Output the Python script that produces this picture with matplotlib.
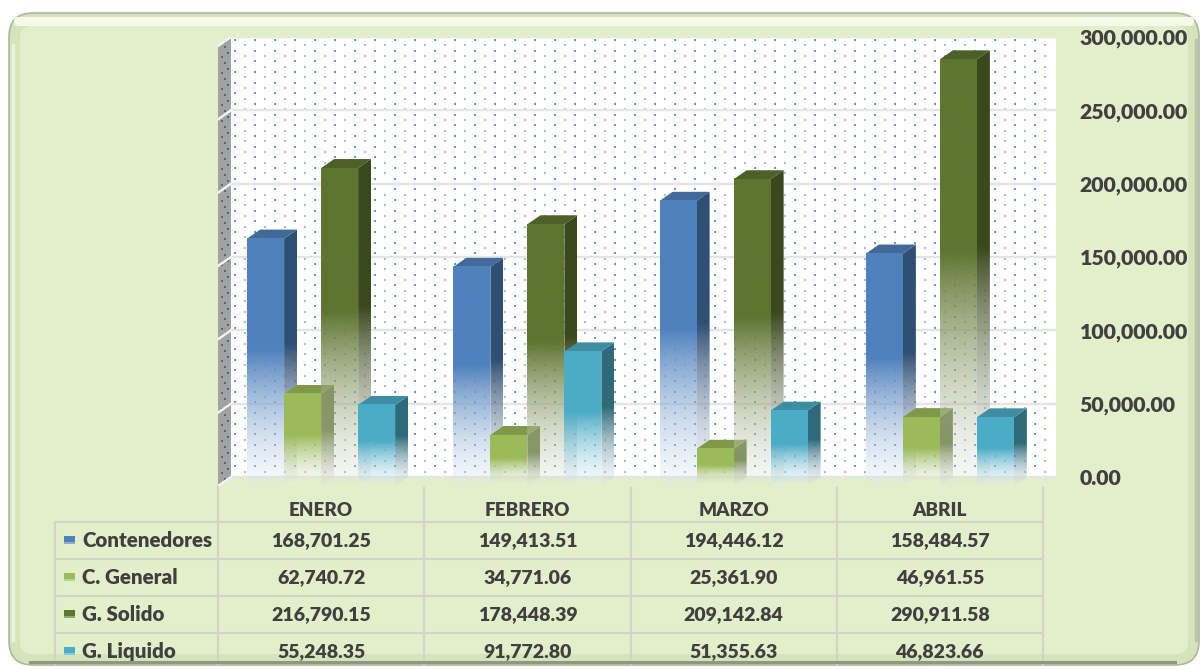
import numpy as np
import matplotlib
matplotlib.use("Agg")
import matplotlib.pyplot as plt
from matplotlib.patches import Polygon, Rectangle, FancyBboxPatch
from matplotlib.ticker import FuncFormatter
from matplotlib.colors import to_rgb

# ---------------- data ----------------
months = ["ENERO", "FEBRERO", "MARZO", "ABRIL"]
series_names = ["Contenedores", "C. General", "G. Solido", "G. Liquido"]
contenedores = [168701.25, 149413.51, 194446.12, 158484.57]
c_general = [62740.72, 34771.06, 25361.90, 46961.55]
g_solido = [216790.15, 178448.39, 209142.84, 290911.58]
g_liquido = [55248.35, 91772.80, 51355.63, 46823.66]
y_ticks = [0, 50000, 100000, 150000, 200000, 250000, 300000]

series_values = [contenedores, c_general, g_solido, g_liquido]
series_colors = ["#4F81BD", "#9BBB59", "#5E7530", "#4BACC6"]

FONT = ["Lato", "DejaVu Sans"]
TXT = "#404040"

# ---------------- layout (pixels) ----------------
W, H, DPI = 1203, 669, 100
BACK_L, BACK_R, BACK_TOP, BACK_BOT = 231, 1056, 37, 477
DX, DY = 13, 9
BAR_PX = 37

fig = plt.figure(figsize=(W / DPI, H / DPI), dpi=DPI, facecolor="white")

# background axes (pixel coordinates)
bg = fig.add_axes([0, 0, 1, 1], zorder=0)
bg.set_xlim(0, W)
bg.set_ylim(H, 0)
bg.axis("off")

# frame with bevel
bg.add_patch(FancyBboxPatch((9, 13), 1190, 652, boxstyle="round,pad=0,rounding_size=24",
                            fc="#D6E4BB", ec="#AEB79E", lw=1.2))
bg.add_patch(FancyBboxPatch((14, 17), 1180, 9, boxstyle="round,pad=0,rounding_size=4",
                            fc="#F4F9EA", ec="none"))
bg.add_patch(FancyBboxPatch((20, 26), 1168, 628, boxstyle="round,pad=0,rounding_size=12",
                            fc="#E3EFCB", ec="none"))
bg.plot([13, 13], [45, 640], color="#EEF5DE", lw=2.5, alpha=0.9)
bg.plot([30, 1175], [662, 662], color="#8E9780", lw=2.2)
bg.plot([1196, 1196], [40, 640], color="#BCC5A8", lw=2.5)

# ---------------- main axes ----------------
ncat = len(months)
cat_px = (BACK_R - BACK_L) / ncat
ymax = y_ticks[-1]
dxc = DX / cat_px
dyv = DY / (BACK_BOT - BACK_TOP) * ymax

left_px = BACK_L - DX
bot_px = BACK_BOT + DY
ax = fig.add_axes([left_px / W, 1 - bot_px / H, (BACK_R - left_px) / W, (bot_px - BACK_TOP) / H],
                  zorder=1)
ax.patch.set_alpha(0)
for s in ax.spines.values():
    s.set_visible(False)

# back wall
ax.add_patch(Rectangle((-0.5, 0), ncat, ymax, fc="white", ec="none", zorder=0.5))


def px_to_data(px, py):
    return -0.5 + (px - BACK_L) / cat_px, (BACK_BOT - py) / (BACK_BOT - BACK_TOP) * ymax


# dotted pattern on back wall
rows = np.arange(BACK_TOP + 3, BACK_BOT - 1, 5.33)
pts_a, pts_b = ([], []), ([], [])
for k, ry in enumerate(rows):
    start = BACK_L + 4 + (10 if k % 2 else 0)
    cols = np.arange(start, BACK_R - 1, 20)
    tgt = pts_a if k % 2 == 0 else pts_b
    tgt[0].extend(cols)
    tgt[1].extend([ry] * len(cols))
for pts, al in ((pts_a, 0.85), (pts_b, 0.55)):
    ddx, ddy = px_to_data(np.array(pts[0]), np.array(pts[1]))
    ax.scatter(ddx, ddy, s=4.5, marker="s", color="#4F80CC", alpha=al, lw=0, zorder=0.6)

# left wall
wall = Polygon([(-0.5 - dxc, -dyv), (-0.5, 0), (-0.5, ymax), (-0.5 - dxc, ymax - dyv)],
               closed=True, fc="#A2A2A2", ec="none", zorder=0.55)
ax.add_patch(wall)
wy = np.arange(BACK_TOP + 6, BACK_BOT, 8.0)
for k, ry in enumerate(wy):
    for off in ([4, 10] if k % 2 else [7]):
        x0, y0 = px_to_data(BACK_L - DX + off, ry + DY * (1 - off / DX))
        ax.plot([x0], [y0], marker="s", ms=1.5, color="#4F6890", mew=0, zorder=0.58)

# gridlines
for t in y_ticks:
    ax.plot([-0.5, ncat - 0.5], [t, t], color="#E4E4E4", lw=1.7, zorder=0.7)
    ax.plot([-0.5 - dxc, -0.5], [t - dyv, t], color="#F4F4F4", lw=1.7, zorder=0.7)


def darker(c, f):
    return tuple(np.array(to_rgb(c)) * f)


def grad_img(color, n=256):
    base = np.array(to_rgb(color))
    t = np.linspace(0, 1, n)
    a = np.clip(t / 0.55, 0, 1)
    light = base + (1 - base) * 0.82
    rgb = light[None, :] * (1 - a[:, None]) + base[None, :] * a[:, None]
    alpha = 0.22 + 0.78 * a
    img = np.concatenate([rgb, alpha[:, None]], axis=1)[:, None, :]
    return np.repeat(img, 2, axis=1)


bw = BAR_PX / cat_px
nser = len(series_values)
for ci in range(ncat):
    for si in range(nser):
        v = series_values[si][ci]
        col = series_colors[si]
        xl = ci + (si - nser / 2) * bw
        xr = xl + bw
        z = 2 + si * 0.1
        side_col = darker(col, 0.62)
        top_col = darker(col, 0.82)
        # side face
        side = Polygon([(xr - dxc, -dyv), (xr, 0), (xr, v), (xr - dxc, v - dyv)], closed=True,
                       fc="none", ec="none", transform=ax.transData)
        im = ax.imshow(grad_img(side_col), origin="lower", extent=(xr - dxc, xr, -dyv, v),
                       aspect="auto", interpolation="bilinear", zorder=z)
        im.set_clip_path(side)
        # top face
        ax.add_patch(Polygon([(xl - dxc, v - dyv), (xr - dxc, v - dyv), (xr, v), (xl, v)],
                             closed=True, fc=top_col, ec="none", zorder=z + 0.01))
        # front face
        ax.imshow(grad_img(col), origin="lower", extent=(xl - dxc, xr - dxc, -dyv, v - dyv),
                  aspect="auto", interpolation="bilinear", zorder=z + 0.02)

ax.set_xlim(-0.5 - dxc, ncat - 0.5)
ax.set_ylim(-dyv, ymax)
ax.set_xticks([])
ax.yaxis.tick_right()
ax.set_yticks(y_ticks)
ax.yaxis.set_major_formatter(FuncFormatter(lambda val, p: f"{val:,.2f}"))
ax.tick_params(axis="y", length=0, pad=17, labelsize=15.3, labelcolor=TXT)
for lab in ax.get_yticklabels():
    lab.set_fontfamily(FONT)
    lab.set_fontweight("heavy")

# ---------------- data table ----------------
LINE = "#D2D4CC"
col_edges = [left_px + i * cat_px for i in range(ncat + 1)]
label_left = 55
row_top = 522
row_h = 37
table_bot = 664
header_y = 510

for i, x in enumerate(col_edges):
    y0 = bot_px if i == 0 else bot_px + 2
    bg.plot([x, x], [y0, table_bot], color=LINE, lw=1.6, zorder=1)
bg.plot([label_left, label_left], [row_top, table_bot], color=LINE, lw=1.6, zorder=1)
for r in range(nser):
    y = row_top + r * row_h
    bg.plot([label_left, col_edges[-1]], [y, y], color=LINE, lw=1.6, zorder=1)

for ci, m in enumerate(months):
    cx = (col_edges[ci] + col_edges[ci + 1]) / 2
    bg.text(cx, header_y, m, ha="center", va="center", fontsize=13.5, fontweight="heavy",
            color=TXT, family=FONT, zorder=2)

for si, name in enumerate(series_names):
    cy = row_top + (si + 0.5) * row_h
    bg.add_patch(Rectangle((64, cy - 4.5), 11, 8, fc=series_colors[si], ec="none", zorder=2))
    bg.add_patch(Rectangle((64, cy + 1.5), 11, 2, fc="white", ec="none", alpha=0.35,
                           zorder=2.1))
    bg.text(82, cy, name, ha="left", va="center", fontsize=14.8, fontweight="heavy",
            color=TXT, family=FONT, zorder=2)
    for ci in range(ncat):
        cx = (col_edges[ci] + col_edges[ci + 1]) / 2
        bg.text(cx, cy, f"{series_values[si][ci]:,.2f}", ha="center", va="center",
                fontsize=14, fontweight="heavy", color=TXT, family=FONT, zorder=2)

fig.savefig("out.png", dpi=DPI, facecolor="white")
